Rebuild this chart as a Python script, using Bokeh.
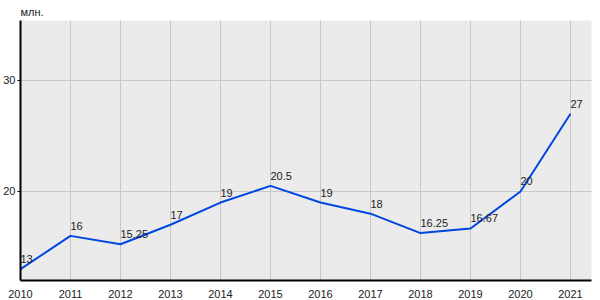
from bokeh.plotting import figure
from bokeh.models import Range1d, FixedTicker, ColumnDataSource
from bokeh.core.properties import value
from bokeh.embed import file_html
from bokeh.resources import INLINE

years = [2010, 2011, 2012, 2013, 2014, 2015, 2016, 2017, 2018, 2019, 2020, 2021]
values = [13, 16, 15.25, 17, 19, 20.5, 19, 18, 16.25, 16.67, 20, 27]
labels = ["13", "16", "15.25", "17", "19", "20.5", "19", "18", "16.25", "16.67", "20", "27"]
y_ticks = [20, 30]
unit_label = "млн."

FONT = "Liberation Sans"

p = figure(width=600, height=300, output_backend="svg", toolbar_location=None,
           x_range=Range1d(2010, 2021.42), y_range=Range1d(11.98, 35.4),
           min_border_left=20, min_border_right=9, min_border_top=0, min_border_bottom=20)
p.background_fill_color = "#EBEBEB"
p.border_fill_color = "white"
p.outline_line_color = None

p.title.text = unit_label
p.title.text_font = FONT
p.title.text_font_size = "11px"
p.title.text_font_style = "normal"
p.title.text_color = "#222222"
p.title.align = "left"
p.title.offset = 0
p.title.standoff = 6

for ax in (p.xaxis, p.yaxis):
    ax.axis_line_color = "black"
    ax.axis_line_width = 2
    ax.major_label_text_font = FONT
    ax.major_label_text_font_size = "11px"
    ax.major_label_text_color = "#222222"
    ax.minor_tick_line_color = None

p.xaxis.ticker = FixedTicker(ticks=years)
p.xaxis.major_tick_line_color = None
p.xaxis.major_label_standoff = 3
p.yaxis.ticker = FixedTicker(ticks=y_ticks)
p.yaxis.major_tick_line_color = "black"
p.yaxis.major_tick_in = 0
p.yaxis.major_tick_out = 3
p.yaxis.major_label_standoff = 2

p.xgrid.ticker = FixedTicker(ticks=years)
p.ygrid.ticker = FixedTicker(ticks=y_ticks)
for g in (p.xgrid, p.ygrid):
    g.grid_line_color = "#C8C8C8"
    g.grid_line_width = 1

src = ColumnDataSource(dict(x=years, y=values, t=labels))
p.line("x", "y", source=src, line_color="#0046E0", line_width=2)
p.text("x", "y", text="t", source=src, text_font=value(FONT), text_font_size="11px",
       text_color="#222222", text_baseline="bottom", text_align="left",
       x_offset=0, y_offset=-6)

open("out.html", "w").write(file_html(p, INLINE))
